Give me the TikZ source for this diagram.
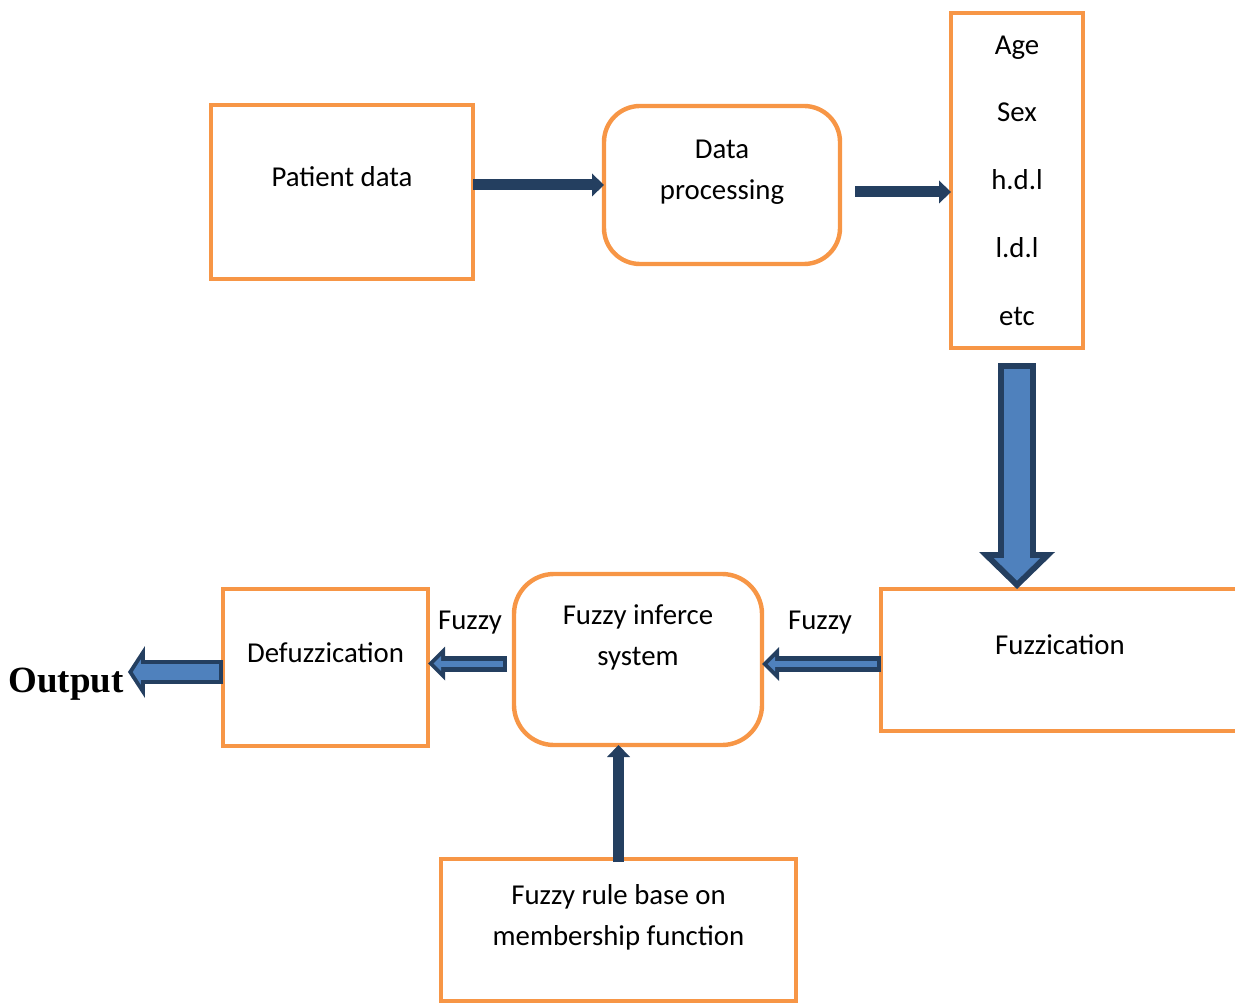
\documentclass[tikz,border=0pt]{standalone}
\usepackage{fontspec}
\setmainfont{Carlito}
\newfontfamily\outfont{Liberation Serif}
\usetikzlibrary{arrows.meta}
\definecolor{orng}{HTML}{F79646}
\definecolor{navy}{HTML}{243F60}
\definecolor{steel}{HTML}{4F81BD}

\begin{document}
\begin{tikzpicture}[x=0.5pt,y=-0.5pt,
font=\fontsize{14.4}{20.5}\selectfont,
box/.style={draw=orng,line width=2.2pt,outer sep=0pt,align=center},
rbox/.style={box,rounded corners=18pt},
lbl/.style={inner sep=0pt,anchor=base},
arr/.style={draw=navy,line width=5.5pt,-{Triangle[length=6pt,width=11.5pt,line width=0pt]}},
bigarr/.style={draw=navy,line width=19pt,-{Triangle[length=18.5pt,width=38pt,line width=0pt]},
  postaction={draw=steel,line width=13pt,shorten >=4.2pt,shorten <=3pt,-{Triangle[length=11.3pt,width=23.2pt,line width=0pt]}}},
midarr/.style={draw=navy,line width=8pt,-{Triangle[length=8.5pt,width=17pt,line width=0pt]},
  postaction={draw=steel,line width=3pt,shorten >=2.8pt,shorten <=2pt,-{Triangle[length=3.7pt,width=7.4pt,line width=0pt]}}},
outarr/.style={draw=navy,line width=12pt,shorten >=2pt,-{Triangle[length=8.5pt,width=26pt,line width=0pt]},
  postaction={draw=steel,line width=8pt,shorten >=4.4pt,shorten <=2pt,-{Triangle[length=4pt,width=12.5pt,line width=0pt]}}}
]
\useasboundingbox (0,0) rectangle (1235,1005);

% top row
\node[box,minimum width=131pt,minimum height=87pt,text depth=15pt] (pat) at (342,192) {Patient data};
\node[rbox,minimum width=118pt,minimum height=79pt,text depth=15pt] (proc) at (722,185) {Data\\processing};
\node[box,minimum width=66pt,minimum height=167.5pt,font=\fontsize{14.4}{33.9}\selectfont] (attr) at (1017,180.5)
  {Age\\Sex\\h.d.l\\l.d.l\\etc};

% bottom row
\node[box,minimum width=179pt,minimum height=71pt,text depth=15.5pt] (fuzz) at (1060,660) {Fuzzication};
\node[rbox,rounded corners=20pt,minimum width=124pt,minimum height=85.5pt,text depth=24pt] (fis) at (638,659.5)
  {Fuzzy inferce\\system};
\node[box,minimum width=102.5pt,minimum height=78.5pt,text depth=15pt] (defuzz) at (325.5,667.5) {Defuzzication};
\node[box,minimum width=177.5pt,minimum height=71pt,text depth=15pt] (rule) at (618.5,930)
  {Fuzzy rule base on\\membership function};
\node[lbl,font=\outfont\bfseries\fontsize{18.5}{22}\selectfont] (out) at (66,692) {Output};
\node[lbl] (fzl) at (470,629) {Fuzzy};
\node[lbl] (fzr) at (820,629) {Fuzzy};

\draw[arr] (pat.east |- proc.west) -- (proc.west);
\draw[arr] ([xshift=7.5pt,yshift=-3.5pt]proc.east) -- ([yshift=-3.5pt]proc.east -| attr.west);
\draw[bigarr] ([yshift=-7.5pt]attr.south) -- (attr.south |- fuzz.north);
\draw[midarr] ([yshift=-2pt]fuzz.west) -- ([yshift=-2pt]fuzz.west -| fis.east);
\draw[midarr] ([xshift=-3.5pt,yshift=-2pt]fis.west) -- ([yshift=-2pt]fis.west -| defuzz.east);
\draw[outarr] ([yshift=-2.25pt]defuzz.west) -- ([yshift=-2.25pt]defuzz.west -| out.east);
\draw[arr] ([yshift=-1.5pt]rule.north) -- (rule.north |- fis.south);
\end{tikzpicture}
\end{document}
